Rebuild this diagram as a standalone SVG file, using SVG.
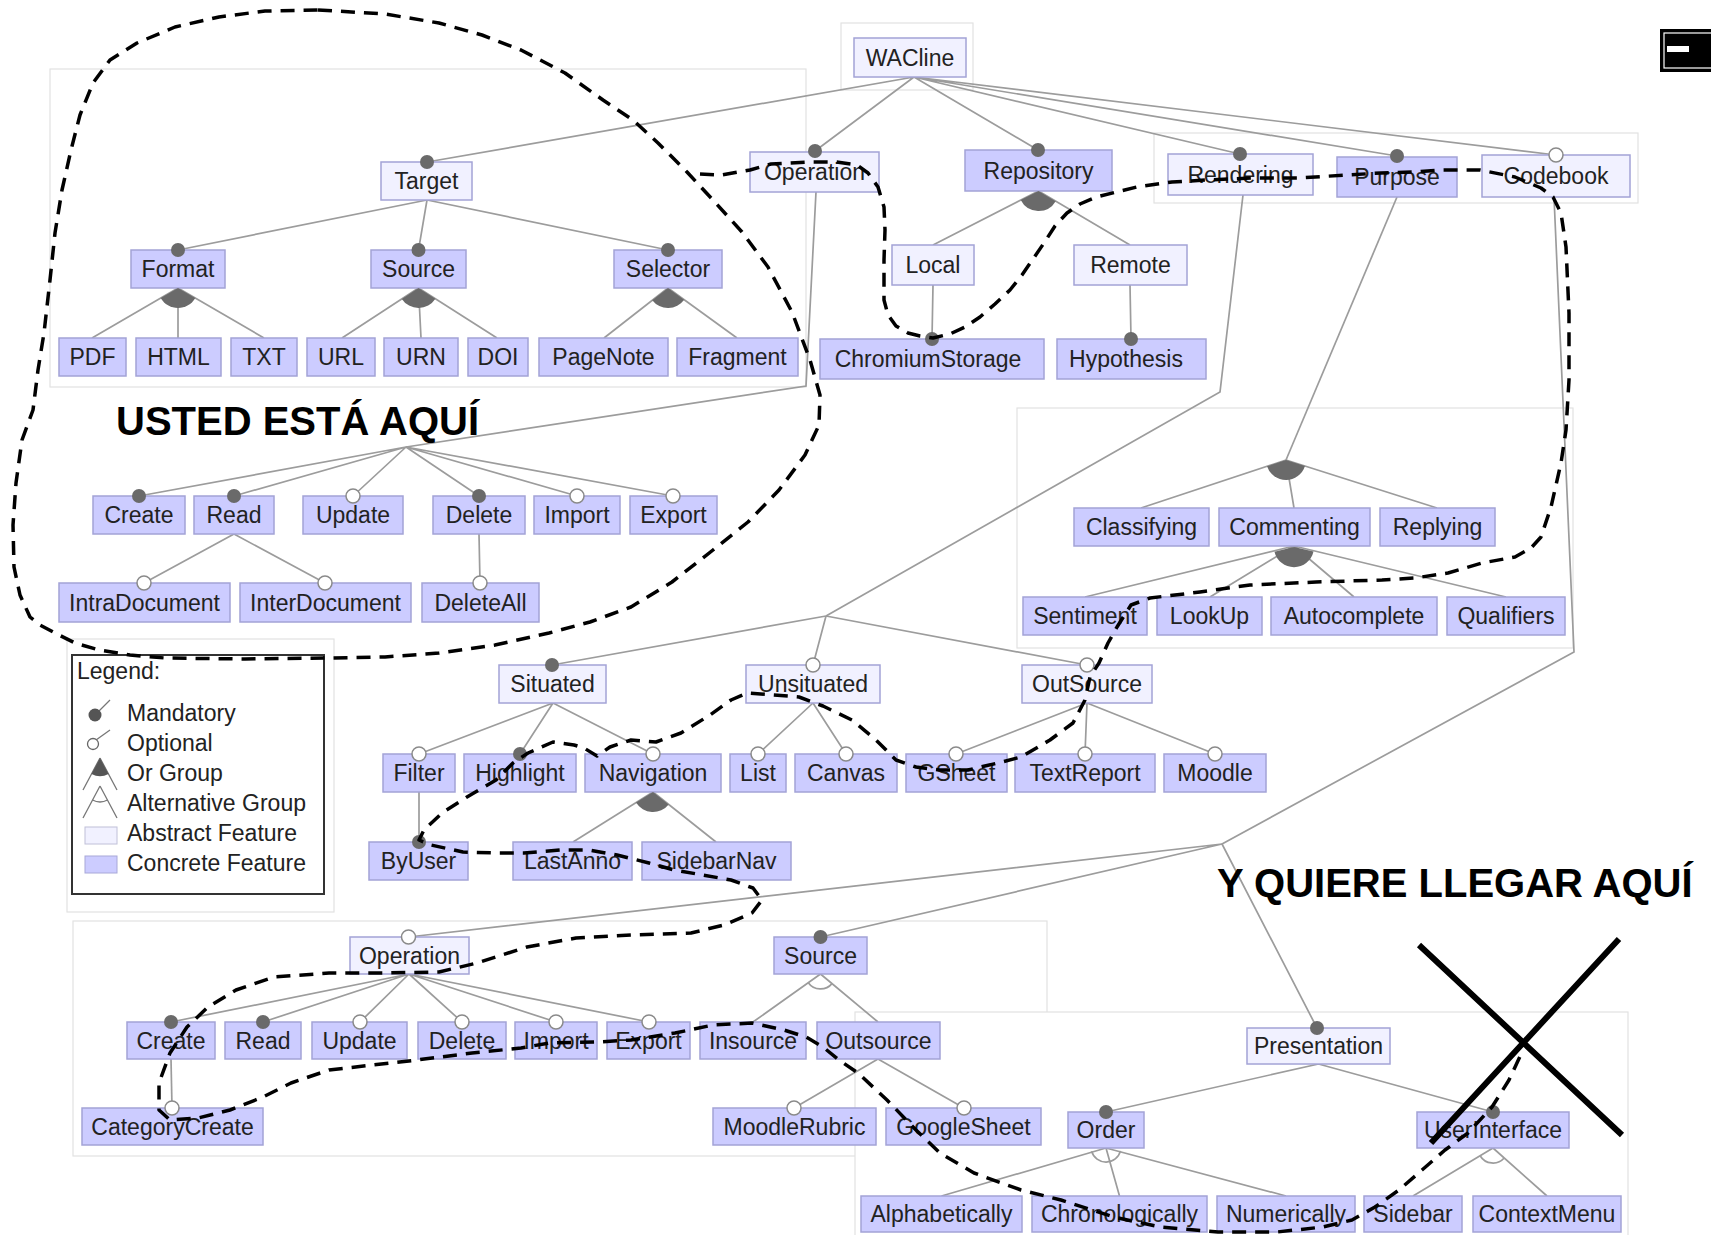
<svg xmlns="http://www.w3.org/2000/svg" width="1711" height="1235" viewBox="0 0 1711 1235">
<style>
.fr{fill:#fff;stroke:#e2e2e2;stroke-width:1.2}
.c{fill:#ccccff;stroke:#a3a3d6;stroke-width:1.5}
.a{fill:#f1f1ff;stroke:#a3a3d6;stroke-width:1.5}
.t{font-family:"Liberation Sans",Arial,sans-serif;font-size:23px;fill:#222;text-anchor:middle}
.lt{font-family:"Liberation Sans",Arial,sans-serif;font-size:23px;fill:#222}
.big{font-family:"Liberation Sans",Arial,sans-serif;font-size:40px;font-weight:bold;fill:#000}
.ln{stroke:#9c9c9c;stroke-width:1.7;fill:none}
.m{fill:#6a6a6a}
.o{fill:#fff;stroke:#8a8a8a;stroke-width:1.5}
.g{fill:#6a6a6a}
.alt{fill:none;stroke:#9c9c9c;stroke-width:1.7}
.dash{fill:none;stroke:#000;stroke-width:3.5;stroke-dasharray:14 9;stroke-linejoin:round;stroke-linecap:butt}
</style>
<rect width="1711" height="1235" fill="#fff"/>
<g id="frames">
<rect class="fr" x="50" y="69" width="756" height="318"/>
<rect class="fr" x="841" y="23" width="132" height="67"/>
<rect class="fr" x="1154" y="133" width="484" height="70"/>
<rect class="fr" x="1017" y="408" width="556" height="240"/>
<rect class="fr" x="67" y="639" width="267" height="273"/>
<rect class="fr" x="73" y="921" width="974" height="235"/>
<rect class="fr" x="855" y="1012" width="773" height="230"/>
</g>
<g id="connectors" class="ln">
<path d="M914,77L427,162M914,77L815,151M914,77L1038,150M914,77L1240,154M914,77L1397,156M914,77L1556,155"/>
<path d="M427,200L178,250M427,200L418.5,250M427,200L668,250"/>
<path d="M178,288L92,338M178,288L178,338M178,288L264,338"/>
<path d="M418.5,288L342,338M418.5,288L421,338M418.5,288L497,338"/>
<path d="M668,288L604,338M668,288L737,338"/>
<path d="M816,192L806,386L406,447"/>
<path d="M406,447L139,496M406,447L234,496M406,447L353,496M406,447L479,496M406,447L577,496M406,447L673,496"/>
<path d="M234,534L144,583M234,534L325,583M479,534L480,583"/>
<path d="M1038.5,191L933,245M1038.5,191L1130,245"/>
<path d="M933,285L932,339M1130,285L1131,339"/>
<path d="M1243,195L1220,392L826,616"/>
<path d="M826,616L552,665M826,616L813,665M826,616L1087,665"/>
<path d="M553,703L419,754M553,703L520,754M553,703L653,754"/>
<path d="M419,792L419,842M653,792L573,842M653,792L716,842"/>
<path d="M813,703L758,754M813,703L846,754"/>
<path d="M1087,703L956,754M1087,703L1085,754M1087,703L1215,754"/>
<path d="M1397,197L1286,460"/>
<path d="M1286,460L1141,508M1286,460L1294,508M1286,460L1437,508"/>
<path d="M1294,546L1085,597M1294,546L1210,597M1294,546L1354,597M1294,546L1506,597"/>
<path d="M1554,197L1574,652L1222,844"/>
<path d="M1222,844L408.5,937M1222,844L820.5,937M1222,844L1317,1028"/>
<path d="M409,974L171,1022M409,974L263,1022M409,974L360,1022M409,974L462,1022M409,974L556,1022M409,974L649,1022"/>
<path d="M171,1059L172,1108"/>
<path d="M820.5,974L753,1022M820.5,974L878,1022"/>
<path d="M878,1059L794,1108M878,1059L964,1108"/>
<path d="M1318.5,1064L1106,1112M1318.5,1064L1493,1112"/>
<path d="M1106,1148L941.5,1196M1106,1148L1119.5,1196M1106,1148L1286,1196"/>
<path d="M1493,1148L1413,1196M1493,1148L1547,1196"/>
</g>
<g id="n-wacline"><rect class="a" x="854" y="38" width="112" height="39"/><text class="t" x="910" y="65.5">WACline</text></g>
<g id="n-target"><rect class="a" x="381" y="162" width="91" height="38"/><text class="t" x="426.5" y="189">Target</text></g>
<g id="n-operation"><rect class="a" x="750" y="152" width="129" height="40"/><text class="t" x="814.5" y="180">Operation</text></g>
<g id="n-repository"><rect class="c" x="965" y="150" width="147" height="41"/><text class="t" x="1038.5" y="178.5">Repository</text></g>
<g id="n-rendering"><rect class="a" x="1168" y="154" width="145" height="41"/><text class="t" x="1240.5" y="182.5">Rendering</text></g>
<g id="n-purpose"><rect class="c" x="1337" y="157" width="120" height="40"/><text class="t" x="1397" y="185">Purpose</text></g>
<g id="n-codebook"><rect class="a" x="1482" y="155" width="148" height="42"/><text class="t" x="1556" y="184">Codebook</text></g>
<g id="n-format"><rect class="c" x="131" y="250" width="94" height="38"/><text class="t" x="178" y="277">Format</text></g>
<g id="n-source"><rect class="c" x="371" y="250" width="95" height="38"/><text class="t" x="418.5" y="277">Source</text></g>
<g id="n-selector"><rect class="c" x="614" y="250" width="108" height="38"/><text class="t" x="668" y="277">Selector</text></g>
<g id="n-pdf"><rect class="c" x="59" y="338" width="67" height="38"/><text class="t" x="92.5" y="365">PDF</text></g>
<g id="n-html"><rect class="c" x="136" y="338" width="85" height="38"/><text class="t" x="178.5" y="365">HTML</text></g>
<g id="n-txt"><rect class="c" x="231" y="338" width="66" height="38"/><text class="t" x="264" y="365">TXT</text></g>
<g id="n-url"><rect class="c" x="307" y="338" width="68" height="38"/><text class="t" x="341" y="365">URL</text></g>
<g id="n-urn"><rect class="c" x="384" y="338" width="74" height="38"/><text class="t" x="421" y="365">URN</text></g>
<g id="n-doi"><rect class="c" x="468" y="338" width="60" height="38"/><text class="t" x="498" y="365">DOI</text></g>
<g id="n-pagenote"><rect class="c" x="539" y="338" width="129" height="38"/><text class="t" x="603.5" y="365">PageNote</text></g>
<g id="n-fragment"><rect class="c" x="677" y="338" width="121" height="38"/><text class="t" x="737.5" y="365">Fragment</text></g>
<g id="n-local"><rect class="a" x="892" y="245" width="82" height="40"/><text class="t" x="933" y="273">Local</text></g>
<g id="n-remote"><rect class="a" x="1074" y="245" width="113" height="40"/><text class="t" x="1130.5" y="273">Remote</text></g>
<g id="n-chromiumstorage"><rect class="c" x="820" y="339" width="224" height="40"/><text class="t" x="928" y="367">ChromiumStorage</text></g>
<g id="n-hypothesis"><rect class="c" x="1057" y="339" width="149" height="40"/><text class="t" x="1126" y="367">Hypothesis</text></g>
<g id="n-create1"><rect class="c" x="93" y="496" width="92" height="38"/><text class="t" x="139" y="523">Create</text></g>
<g id="n-read1"><rect class="c" x="194" y="496" width="80" height="38"/><text class="t" x="234" y="523">Read</text></g>
<g id="n-update1"><rect class="c" x="303" y="496" width="100" height="38"/><text class="t" x="353" y="523">Update</text></g>
<g id="n-delete1"><rect class="c" x="433" y="496" width="92" height="38"/><text class="t" x="479" y="523">Delete</text></g>
<g id="n-import1"><rect class="c" x="534" y="496" width="86" height="38"/><text class="t" x="577" y="523">Import</text></g>
<g id="n-export1"><rect class="c" x="630" y="496" width="87" height="38"/><text class="t" x="673.5" y="523">Export</text></g>
<g id="n-intradocument"><rect class="c" x="59" y="583" width="171" height="39"/><text class="t" x="144.5" y="610.5">IntraDocument</text></g>
<g id="n-interdocument"><rect class="c" x="240" y="583" width="171" height="39"/><text class="t" x="325.5" y="610.5">InterDocument</text></g>
<g id="n-deleteall"><rect class="c" x="422" y="583" width="117" height="39"/><text class="t" x="480.5" y="610.5">DeleteAll</text></g>
<g id="n-classifying"><rect class="c" x="1074" y="508" width="135" height="38"/><text class="t" x="1141.5" y="535">Classifying</text></g>
<g id="n-commenting"><rect class="c" x="1219" y="508" width="151" height="38"/><text class="t" x="1294.5" y="535">Commenting</text></g>
<g id="n-replying"><rect class="c" x="1380" y="508" width="115" height="38"/><text class="t" x="1437.5" y="535">Replying</text></g>
<g id="n-sentiment"><rect class="c" x="1023" y="597" width="124" height="38"/><text class="t" x="1085" y="624">Sentiment</text></g>
<g id="n-lookup"><rect class="c" x="1157" y="597" width="105" height="38"/><text class="t" x="1209.5" y="624">LookUp</text></g>
<g id="n-autocomplete"><rect class="c" x="1271" y="597" width="166" height="38"/><text class="t" x="1354" y="624">Autocomplete</text></g>
<g id="n-qualifiers"><rect class="c" x="1447" y="597" width="118" height="38"/><text class="t" x="1506" y="624">Qualifiers</text></g>
<g id="n-situated"><rect class="a" x="499" y="665" width="107" height="38"/><text class="t" x="552.5" y="692">Situated</text></g>
<g id="n-unsituated"><rect class="a" x="746" y="665" width="134" height="38"/><text class="t" x="813" y="692">Unsituated</text></g>
<g id="n-outsource1"><rect class="a" x="1022" y="665" width="130" height="38"/><text class="t" x="1087" y="692">OutSource</text></g>
<g id="n-filter"><rect class="c" x="383" y="754" width="72" height="38"/><text class="t" x="419" y="781">Filter</text></g>
<g id="n-highlight"><rect class="c" x="464" y="754" width="112" height="38"/><text class="t" x="520" y="781">Highlight</text></g>
<g id="n-navigation"><rect class="c" x="585" y="754" width="136" height="38"/><text class="t" x="653" y="781">Navigation</text></g>
<g id="n-list"><rect class="c" x="730" y="754" width="56" height="38"/><text class="t" x="758" y="781">List</text></g>
<g id="n-canvas"><rect class="c" x="795" y="754" width="102" height="38"/><text class="t" x="846" y="781">Canvas</text></g>
<g id="n-gsheet"><rect class="c" x="906" y="754" width="101" height="38"/><text class="t" x="956.5" y="781">GSheet</text></g>
<g id="n-textreport"><rect class="c" x="1015" y="754" width="140" height="38"/><text class="t" x="1085" y="781">TextReport</text></g>
<g id="n-moodle"><rect class="c" x="1164" y="754" width="102" height="38"/><text class="t" x="1215" y="781">Moodle</text></g>
<g id="n-byuser"><rect class="c" x="369" y="842" width="99" height="38"/><text class="t" x="418.5" y="869">ByUser</text></g>
<g id="n-lastanno"><rect class="c" x="513" y="842" width="119" height="38"/><text class="t" x="572.5" y="869">LastAnno</text></g>
<g id="n-sidebarnav"><rect class="c" x="642" y="842" width="149" height="38"/><text class="t" x="716.5" y="869">SidebarNav</text></g>
<g id="n-operation2"><rect class="a" x="350" y="937" width="119" height="37"/><text class="t" x="409.5" y="963.5">Operation</text></g>
<g id="n-source2"><rect class="c" x="774" y="937" width="93" height="37"/><text class="t" x="820.5" y="963.5">Source</text></g>
<g id="n-create2"><rect class="c" x="127" y="1022" width="88" height="37"/><text class="t" x="171" y="1048.5">Create</text></g>
<g id="n-read2"><rect class="c" x="225" y="1022" width="76" height="37"/><text class="t" x="263" y="1048.5">Read</text></g>
<g id="n-update2"><rect class="c" x="312" y="1022" width="95" height="37"/><text class="t" x="359.5" y="1048.5">Update</text></g>
<g id="n-delete2"><rect class="c" x="418" y="1022" width="88" height="37"/><text class="t" x="462" y="1048.5">Delete</text></g>
<g id="n-import2"><rect class="c" x="515" y="1022" width="82" height="37"/><text class="t" x="556" y="1048.5">Import</text></g>
<g id="n-export2"><rect class="c" x="607" y="1022" width="83" height="37"/><text class="t" x="648.5" y="1048.5">Export</text></g>
<g id="n-insource"><rect class="c" x="700" y="1022" width="106" height="37"/><text class="t" x="753" y="1048.5">Insource</text></g>
<g id="n-outsource2"><rect class="c" x="817" y="1022" width="123" height="37"/><text class="t" x="878.5" y="1048.5">Outsource</text></g>
<g id="n-categorycreate"><rect class="c" x="82" y="1108" width="181" height="37"/><text class="t" x="172.5" y="1134.5">CategoryCreate</text></g>
<g id="n-moodlerubric"><rect class="c" x="713" y="1108" width="163" height="37"/><text class="t" x="794.5" y="1134.5">MoodleRubric</text></g>
<g id="n-googlesheet"><rect class="c" x="886" y="1108" width="155" height="37"/><text class="t" x="963.5" y="1134.5">GoogleSheet</text></g>
<g id="n-presentation"><rect class="a" x="1247" y="1028" width="143" height="36"/><text class="t" x="1318.5" y="1054">Presentation</text></g>
<g id="n-order"><rect class="c" x="1068" y="1112" width="76" height="36"/><text class="t" x="1106" y="1138">Order</text></g>
<g id="n-userinterface"><rect class="c" x="1417" y="1112" width="152" height="36"/><text class="t" x="1493" y="1138">UserInterface</text></g>
<g id="n-alphabetically"><rect class="c" x="861" y="1196" width="161" height="36"/><text class="t" x="941.5" y="1222">Alphabetically</text></g>
<g id="n-chronologically"><rect class="c" x="1032" y="1196" width="175" height="36"/><text class="t" x="1119.5" y="1222">Chronologically</text></g>
<g id="n-numerically"><rect class="c" x="1217" y="1196" width="138" height="36"/><text class="t" x="1286" y="1222">Numerically</text></g>
<g id="n-sidebar"><rect class="c" x="1364" y="1196" width="98" height="36"/><text class="t" x="1413" y="1222">Sidebar</text></g>
<g id="n-contextmenu"><rect class="c" x="1473" y="1196" width="148" height="36"/><text class="t" x="1547" y="1222">ContextMenu</text></g>
<g id="groups">
<path class="g" d="M178,288L160.7,298A20,20 0 0,0 195.3,298Z"/>
<path class="g" d="M418.5,288L401.8,298.9A20,20 0 0,0 435.4,298.7Z"/>
<path class="g" d="M668,288L652.2,300.3A20,20 0 0,0 684.2,299.7Z"/>
<path class="g" d="M1038.5,191L1020.7,200.1A20,20 0 0,0 1055.7,201.2Z"/>
<path class="g" d="M1286,460L1267,466.3A20,20 0 0,0 1305,466Z"/>
<path class="g" d="M1294,547L1274.5,551.7A20,20 0 0,0 1313.5,551.6Z"/>
<path class="g" d="M653,792L636,802.6A20,20 0 0,0 668.7,804.4Z"/>
<path class="alt" d="M808.3,982.7A15,15 0 0,0 832,983.6"/>
<path class="alt" d="M1091.6,1151.3A15,15 0 0,0 1120.5,1150.9"/>
<path class="alt" d="M1480.1,1155.7A15,15 0 0,0 1504.2,1158"/>
</g>
<g id="dots">
<circle class="m" cx="427" cy="162" r="7"/><circle class="m" cx="815" cy="151" r="7"/><circle class="m" cx="1038" cy="150" r="7"/><circle class="m" cx="1240" cy="154" r="7"/><circle class="m" cx="1397" cy="156" r="7"/><circle class="o" cx="1556" cy="155" r="7"/>
<circle class="m" cx="178" cy="250" r="7"/><circle class="m" cx="418.5" cy="250" r="7"/><circle class="m" cx="668" cy="250" r="7"/>
<circle class="m" cx="139" cy="496" r="7"/><circle class="m" cx="234" cy="496" r="7"/><circle class="o" cx="353" cy="496" r="7"/><circle class="m" cx="479" cy="496" r="7"/><circle class="o" cx="577" cy="496" r="7"/><circle class="o" cx="673" cy="496" r="7"/>
<circle class="o" cx="144" cy="583" r="7"/><circle class="o" cx="325" cy="583" r="7"/><circle class="o" cx="480" cy="583" r="7"/>
<circle class="m" cx="932" cy="339" r="7"/><circle class="m" cx="1131" cy="339" r="7"/>
<circle class="m" cx="552" cy="665" r="7"/><circle class="o" cx="813" cy="665" r="7"/><circle class="o" cx="1087" cy="665" r="7"/>
<circle class="o" cx="419" cy="754" r="7"/><circle class="m" cx="520" cy="754" r="7"/><circle class="o" cx="653" cy="754" r="7"/><circle class="o" cx="758" cy="754" r="7"/><circle class="o" cx="846" cy="754" r="7"/><circle class="o" cx="956" cy="754" r="7"/><circle class="o" cx="1085" cy="754" r="7"/><circle class="o" cx="1215" cy="754" r="7"/>
<circle class="m" cx="419" cy="842" r="7"/>
<circle class="o" cx="408.5" cy="937" r="7"/><circle class="m" cx="820.5" cy="937" r="7"/><circle class="m" cx="1317" cy="1028" r="7"/>
<circle class="m" cx="171" cy="1022" r="7"/><circle class="m" cx="263" cy="1022" r="7"/><circle class="o" cx="360" cy="1022" r="7"/><circle class="o" cx="462" cy="1022" r="7"/><circle class="o" cx="556" cy="1022" r="7"/><circle class="o" cx="649" cy="1022" r="7"/>
<circle class="o" cx="172" cy="1108" r="7"/><circle class="o" cx="794" cy="1108" r="7"/><circle class="o" cx="964" cy="1108" r="7"/>
<circle class="m" cx="1106" cy="1112" r="7"/><circle class="m" cx="1493" cy="1112" r="7"/>
</g>
<g id="legend">
<rect x="72" y="655" width="252" height="239" fill="#fff" stroke="#333" stroke-width="2"/>
<text class="lt" x="77" y="679">Legend:</text>
<path d="M97,713L110,700" stroke="#777" stroke-width="1.3"/><circle cx="95" cy="715" r="6.5" fill="#555"/>
<text class="lt" x="127" y="721">Mandatory</text>
<path d="M96,740L110,730" stroke="#777" stroke-width="1.3"/><circle cx="93" cy="744" r="5.5" fill="#fff" stroke="#666" stroke-width="1.3"/>
<text class="lt" x="127" y="751">Optional</text>
<path d="M100,758L83,790M100,758L117,790" stroke="#777" stroke-width="1.3" fill="none"/><path d="M100,758L91.5,774A18,18 0 0,0 108.5,774Z" fill="#555"/>
<text class="lt" x="127" y="781">Or Group</text>
<path d="M100,786L83,818M100,786L117,818" stroke="#777" stroke-width="1.3" fill="none"/><path d="M92.5,800A16,16 0 0,0 107.5,800" stroke="#777" stroke-width="1.3" fill="none"/>
<text class="lt" x="127" y="811">Alternative Group</text>
<rect x="85" y="827" width="32" height="17" fill="#f1f1ff" stroke="#c0c0d8"/>
<text class="lt" x="127" y="841">Abstract Feature</text>
<rect x="85" y="856" width="32" height="17" fill="#ccccff" stroke="#a8a8d8"/>
<text class="lt" x="127" y="871">Concrete Feature</text>
</g>
<g id="annotations">
<path class="dash" d="M318,10L385,14L439,23L482,35L521,50L565,73L603,100L633,120L658,143L687,172L713,200L742,232L768,267L792,312L810,360L820,395L819,425L805,455L779,490L748,522L713,550L672,582L631,607L590,622L549,633L495,645L439,653L385,657L329,658L245,659L165,658L130,655L99,650L75,643L55,633L40,625L30,617L20,595L14,567L13,525L16,483L22,440L33,410L38,370L44,333L50,280L55,233L62,190L71,150L80,115L93,83L110,60L137,43L175,27L219,17L265,11Z"/>
<path class="dash" d="M700,174L721,175L750,170L771,164L807,162L836,162L857,165L868,173L878,187L884,207L885,230L884,260L884,300L888,315L896,326L908,333L920,336L933,338L950,334L965,327L980,317L995,304L1010,290L1022,275L1033,259L1044,243L1055,226L1067,213L1080,204L1096,197L1137,187L1172,182L1207,180L1253,178L1300,178L1346,175L1381,173L1416,172L1439,170L1480,170L1515,177L1541,188L1553,197L1561,213L1566,247L1569,313L1569,380L1566,430L1561,463L1551,507L1541,537L1531,548L1515,557L1482,563L1448,573L1415,578L1382,580L1316,582L1250,585L1200,592L1150,598L1131,605L1117,627L1108,643L1099,663L1090,677L1085,700L1073,723L1050,740L1021,757L998,763L968,770L939,770L916,767L896,760L876,740L852,720L823,706L799,697L774,695L747,693L731,700L710,715L681,733L656,742L631,740L610,747L597,756L584,748L574,745L553,742L528,753L513,763L496,780L467,797L442,813L424,830L419,840L431,845L463,852L496,853L524,853L560,850L589,850L617,855L649,863L674,870L703,875L731,880L753,888L762,900L752,913L724,925L691,933L631,935L576,938L527,947L477,963L439,972L384,973L329,973L274,977L236,990L208,1007L187,1027L170,1053L159,1083L159,1110L170,1120L198,1118L230,1110L263,1097L291,1083L329,1070L373,1065L417,1060L472,1053L521,1048L549,1043L598,1042L631,1040L675,1033L713,1025L752,1023L784,1030L806,1037L823,1047L839,1060L858,1073L887,1100L916,1130L940,1153L974,1173L1021,1190L1061,1200L1114,1217L1160,1227L1218,1232L1277,1232L1323,1227L1352,1220L1375,1207L1399,1190L1422,1170L1445,1150L1468,1133L1492,1107L1509,1080L1523,1050"/>
<text class="big" x="116" y="435">USTED ESTÁ AQUÍ</text>
<text class="big" x="1217" y="897">Y QUIERE LLEGAR AQUÍ</text>
<path d="M1419,945L1622,1135M1619,939L1431,1143" stroke="#000" stroke-width="6" fill="none"/>
<rect x="1660" y="29" width="51" height="43" fill="#000"/>
<rect x="1664" y="33" width="60" height="35" fill="none" stroke="#fff" stroke-width="1.2"/>
<rect x="1667" y="46" width="22" height="6" fill="#fff"/>
</g>
</svg>
